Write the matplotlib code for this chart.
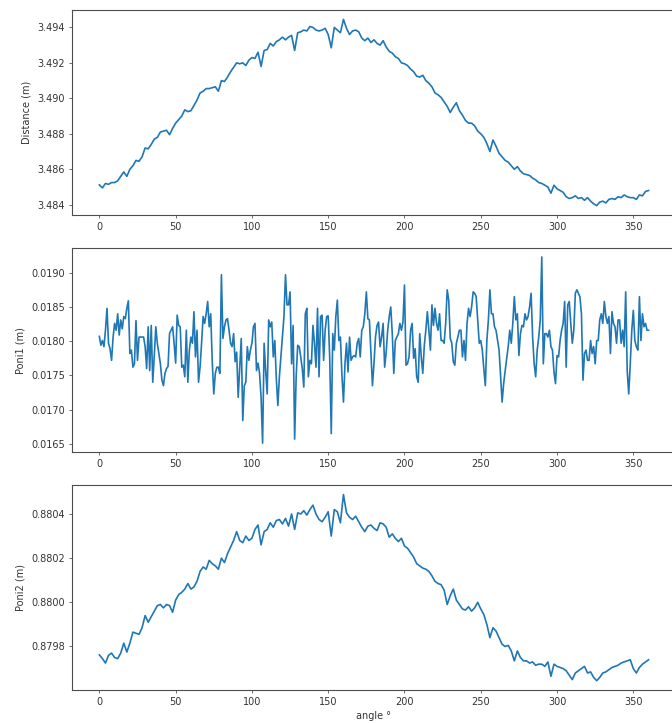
import matplotlib
matplotlib.use("Agg")
import matplotlib.pyplot as plt
from matplotlib.ticker import MultipleLocator, FormatStrFormatter

# angles for the smooth panels (every 2 deg) and for poni1 (every deg)
angle2 = list(range(0, 361, 2))
angle1 = list(range(0, 361))

distance = [
    3.48512, 3.48495, 3.48520, 3.48515, 3.48525, 3.48525, 3.48535, 3.48560, 3.48585, 3.48560,
    3.48600, 3.48620, 3.48650, 3.48645, 3.48670, 3.48720, 3.48715, 3.48740, 3.48770, 3.48780,
    3.48810, 3.48815, 3.48820, 3.48795, 3.48830, 3.48860, 3.48880, 3.48900, 3.48935, 3.48925,
    3.48930, 3.48960, 3.48990, 3.49030, 3.49040, 3.49055, 3.49055, 3.49060, 3.49065, 3.49040,
    3.49100, 3.49095, 3.49120, 3.49150, 3.49175, 3.49200, 3.49195, 3.49200, 3.49185, 3.49215,
    3.49230, 3.49225, 3.49260, 3.49180, 3.49270, 3.49275, 3.49310, 3.49295, 3.49320, 3.49330,
    3.49345, 3.49330, 3.49345, 3.49355, 3.49270, 3.49370, 3.49375, 3.49385, 3.49380, 3.49405,
    3.49400, 3.49385, 3.49380, 3.49385, 3.49395, 3.49360, 3.49285, 3.49400, 3.49385, 3.49370,
    3.49445, 3.49395, 3.49360, 3.49380, 3.49385, 3.49375, 3.49340, 3.49325, 3.49340, 3.49315,
    3.49330, 3.49310, 3.49300, 3.49325, 3.49290, 3.49265, 3.49255, 3.49235, 3.49225, 3.49200,
    3.49195, 3.49185, 3.49165, 3.49150, 3.49125, 3.49120, 3.49130, 3.49100, 3.49085, 3.49065,
    3.49030, 3.49020, 3.49005, 3.48980, 3.48955, 3.48920, 3.48950, 3.48975, 3.48930, 3.48905,
    3.48875, 3.48860, 3.48860, 3.48845, 3.48815, 3.48800, 3.48780, 3.48745, 3.48700, 3.48765,
    3.48730, 3.48690, 3.48670, 3.48650, 3.48640, 3.48620, 3.48600, 3.48615, 3.48590, 3.48575,
    3.48570, 3.48565, 3.48550, 3.48540, 3.48525, 3.48520, 3.48510, 3.48500, 3.48465, 3.48510,
    3.48490, 3.48480, 3.48470, 3.48445, 3.48435, 3.48440, 3.48450, 3.48435, 3.48440, 3.48425,
    3.48440, 3.48420, 3.48405, 3.48395, 3.48415, 3.48420, 3.48410, 3.48430, 3.48435, 3.48430,
    3.48445, 3.48440, 3.48455, 3.48445, 3.48440, 3.48440, 3.48430, 3.48455, 3.48450, 3.48475,
    3.48480,
]

poni1 = [
    0.01807, 0.01794, 0.01801, 0.01792, 0.01816, 0.01848, 0.01797, 0.01789, 0.01772, 0.01806,
    0.01826, 0.01816, 0.01840, 0.01809, 0.01831, 0.01818, 0.01836, 0.01833, 0.01848, 0.01859,
    0.01782, 0.01787, 0.01762, 0.01767, 0.01830, 0.01772, 0.01806, 0.01806, 0.01806, 0.01806,
    0.01792, 0.01760, 0.01821, 0.01757, 0.01823, 0.01740, 0.01779, 0.01821, 0.01797, 0.01782,
    0.01767, 0.01743, 0.01735, 0.01753, 0.01760, 0.01763, 0.01811, 0.01816, 0.01821, 0.01797,
    0.01768, 0.01838, 0.01823, 0.01821, 0.01762, 0.01765, 0.01748, 0.01816, 0.01740, 0.01787,
    0.01806, 0.01797, 0.01843, 0.01777, 0.01816, 0.01740, 0.01762, 0.01797, 0.01836, 0.01826,
    0.01840, 0.01858, 0.01821, 0.01840, 0.01770, 0.01723, 0.01753, 0.01762, 0.01762, 0.01753,
    0.01897, 0.01804, 0.01821, 0.01831, 0.01833, 0.01816, 0.01797, 0.01792, 0.01811, 0.01770,
    0.01784, 0.01718, 0.01762, 0.01804, 0.01684, 0.01735, 0.01740, 0.01792, 0.01772, 0.01787,
    0.01797, 0.01821, 0.01826, 0.01757, 0.01768, 0.01753, 0.01718, 0.01651, 0.01797, 0.01757,
    0.01723, 0.01831, 0.01821, 0.01828, 0.01777, 0.01801, 0.01745, 0.01706, 0.01748, 0.01777,
    0.01806, 0.01836, 0.01897, 0.01853, 0.01853, 0.01872, 0.01767, 0.01823, 0.01657, 0.01748,
    0.01794, 0.01792, 0.01777, 0.01760, 0.01733, 0.01840, 0.01848, 0.01748, 0.01772, 0.01767,
    0.01823, 0.01797, 0.01762, 0.01848, 0.01748, 0.01836, 0.01838, 0.01772, 0.01816, 0.01836,
    0.01837, 0.01775, 0.01665, 0.01811, 0.01787, 0.01836, 0.01860, 0.01801, 0.01806, 0.01750,
    0.01711, 0.01767, 0.01797, 0.01755, 0.01806, 0.01772, 0.01777, 0.01779, 0.01777, 0.01797,
    0.01804, 0.01777, 0.01816, 0.01821, 0.01840, 0.01872, 0.01833, 0.01831, 0.01782, 0.01735,
    0.01767, 0.01806, 0.01823, 0.01828, 0.01792, 0.01806, 0.01826, 0.01762, 0.01784, 0.01816,
    0.01836, 0.01850, 0.01811, 0.01753, 0.01801, 0.01806, 0.01811, 0.01826, 0.01816, 0.01828,
    0.01882, 0.01765, 0.01767, 0.01777, 0.01816, 0.01826, 0.01775, 0.01789, 0.01748, 0.01740,
    0.01811, 0.01777, 0.01753, 0.01794, 0.01816, 0.01843, 0.01816, 0.01787, 0.01853, 0.01823,
    0.01848, 0.01826, 0.01816, 0.01840, 0.01801, 0.01801, 0.01797, 0.01826, 0.01875, 0.01860,
    0.01804, 0.01797, 0.01770, 0.01765, 0.01797, 0.01806, 0.01816, 0.01816, 0.01777, 0.01801,
    0.01772, 0.01826, 0.01848, 0.01836, 0.01850, 0.01872, 0.01870, 0.01865, 0.01831, 0.01797,
    0.01801, 0.01787, 0.01760, 0.01735, 0.01801, 0.01831, 0.01875, 0.01840, 0.01840, 0.01821,
    0.01816, 0.01801, 0.01787, 0.01748, 0.01711, 0.01738, 0.01757, 0.01775, 0.01792, 0.01816,
    0.01797, 0.01826, 0.01865, 0.01831, 0.01840, 0.01779, 0.01811, 0.01823, 0.01821, 0.01840,
    0.01831, 0.01836, 0.01850, 0.01870, 0.01806, 0.01767, 0.01748, 0.01787, 0.01806, 0.01831,
    0.01923, 0.01767, 0.01811, 0.01811, 0.01806, 0.01816, 0.01792, 0.01787, 0.01755, 0.01738,
    0.01779, 0.01777, 0.01801, 0.01816, 0.01826, 0.01858, 0.01762, 0.01853, 0.01858, 0.01826,
    0.01797, 0.01816, 0.01870, 0.01875, 0.01870, 0.01865, 0.01840, 0.01743, 0.01782, 0.01787,
    0.01772, 0.01772, 0.01801, 0.01782, 0.01792, 0.01767, 0.01801, 0.01801, 0.01831, 0.01840,
    0.01826, 0.01858, 0.01836, 0.01826, 0.01836, 0.01782, 0.01843, 0.01826, 0.01821, 0.01797,
    0.01831, 0.01831, 0.01797, 0.01816, 0.01792, 0.01872, 0.01757, 0.01723, 0.01767, 0.01816,
    0.01845, 0.01801, 0.01792, 0.01787, 0.01865, 0.01801, 0.01840, 0.01821, 0.01826, 0.01816,
    0.01816,
]

poni2 = [
    0.879762, 0.879745, 0.879725, 0.879760, 0.879770, 0.879750, 0.879745, 0.879770, 0.879815, 0.879775,
    0.879815, 0.879865, 0.879860, 0.879855, 0.879885, 0.879940, 0.879910, 0.879935, 0.879960, 0.879985,
    0.879990, 0.879975, 0.879990, 0.879985, 0.879955, 0.880010, 0.880035, 0.880045, 0.880060, 0.880085,
    0.880060, 0.880070, 0.880095, 0.880140, 0.880160, 0.880150, 0.880190, 0.880175, 0.880165, 0.880150,
    0.880200, 0.880180, 0.880220, 0.880250, 0.880280, 0.880320, 0.880280, 0.880270, 0.880300, 0.880280,
    0.880290, 0.880330, 0.880350, 0.880260, 0.880320, 0.880330, 0.880360, 0.880340, 0.880370, 0.880375,
    0.880355, 0.880380, 0.880345, 0.880400, 0.880330, 0.880405, 0.880400, 0.880415, 0.880395, 0.880420,
    0.880440, 0.880400, 0.880375, 0.880365, 0.880385, 0.880410, 0.880300, 0.880420, 0.880410, 0.880360,
    0.880488, 0.880405, 0.880385, 0.880375, 0.880390, 0.880365, 0.880340, 0.880320, 0.880345, 0.880350,
    0.880335, 0.880325, 0.880360, 0.880355, 0.880340, 0.880295, 0.880310, 0.880290, 0.880275, 0.880290,
    0.880255, 0.880245, 0.880225, 0.880205, 0.880175, 0.880165, 0.880155, 0.880150, 0.880140, 0.880120,
    0.880095, 0.880085, 0.880080, 0.880055, 0.879990, 0.880030, 0.880060, 0.880010, 0.879990, 0.879970,
    0.879965, 0.879980, 0.879960, 0.879975, 0.880000, 0.879970, 0.879945, 0.879900, 0.879840, 0.879885,
    0.879870, 0.879840, 0.879810, 0.879800, 0.879805, 0.879780, 0.879735, 0.879780, 0.879750, 0.879735,
    0.879735, 0.879725, 0.879730, 0.879715, 0.879720, 0.879720, 0.879710, 0.879730, 0.879665, 0.879720,
    0.879710, 0.879705, 0.879700, 0.879690, 0.879670, 0.879650, 0.879680, 0.879690, 0.879700, 0.879710,
    0.879680, 0.879685, 0.879660, 0.879645, 0.879660, 0.879680, 0.879685, 0.879695, 0.879705, 0.879710,
    0.879715, 0.879725, 0.879730, 0.879735, 0.879740, 0.879700, 0.879680, 0.879705, 0.879720, 0.879730,
    0.879740,
]

plt.rcParams["font.size"] = 7
plt.rcParams["xtick.major.size"] = 2.5
plt.rcParams["ytick.major.size"] = 2.5
plt.rcParams["xtick.major.width"] = 0.6
plt.rcParams["ytick.major.width"] = 0.6
plt.rcParams["axes.linewidth"] = 0.8
plt.rcParams["axes.edgecolor"] = "#4d4d4d"
plt.rcParams["xtick.color"] = "#555555"
plt.rcParams["ytick.color"] = "#555555"
plt.rcParams["xtick.labelcolor"] = "#333333"
plt.rcParams["ytick.labelcolor"] = "#333333"
plt.rcParams["axes.labelcolor"] = "#333333"

fig, axs = plt.subplots(3, 1, figsize=(6.72, 7.23), dpi=100)
fig.subplots_adjust(left=0.107, right=1.006, top=0.986, bottom=0.0456, hspace=0.16)

axs[0].plot(angle2, distance, color="#1f77b4", lw=1.2)
axs[0].set_ylabel("Distance (m)")
axs[0].yaxis.set_major_locator(MultipleLocator(0.002))
axs[0].yaxis.set_major_formatter(FormatStrFormatter("%.3f"))

axs[1].plot(angle1, poni1, color="#1f77b4", lw=1.2)
axs[1].set_ylabel("Poni1 (m)")
axs[1].yaxis.set_major_locator(MultipleLocator(0.0005))
axs[1].yaxis.set_major_formatter(FormatStrFormatter("%.4f"))

axs[2].plot(angle2, poni2, color="#1f77b4", lw=1.2)
axs[2].set_ylabel("Poni2 (m)")
axs[2].set_xlabel("angle °", labelpad=3)
axs[2].yaxis.set_major_locator(MultipleLocator(0.0002))
axs[2].yaxis.set_major_formatter(FormatStrFormatter("%.4f"))

for ax in axs:
    ax.xaxis.set_major_locator(MultipleLocator(50))
    ax.tick_params(pad=2.5)

fig.savefig("out.png", dpi=100)
